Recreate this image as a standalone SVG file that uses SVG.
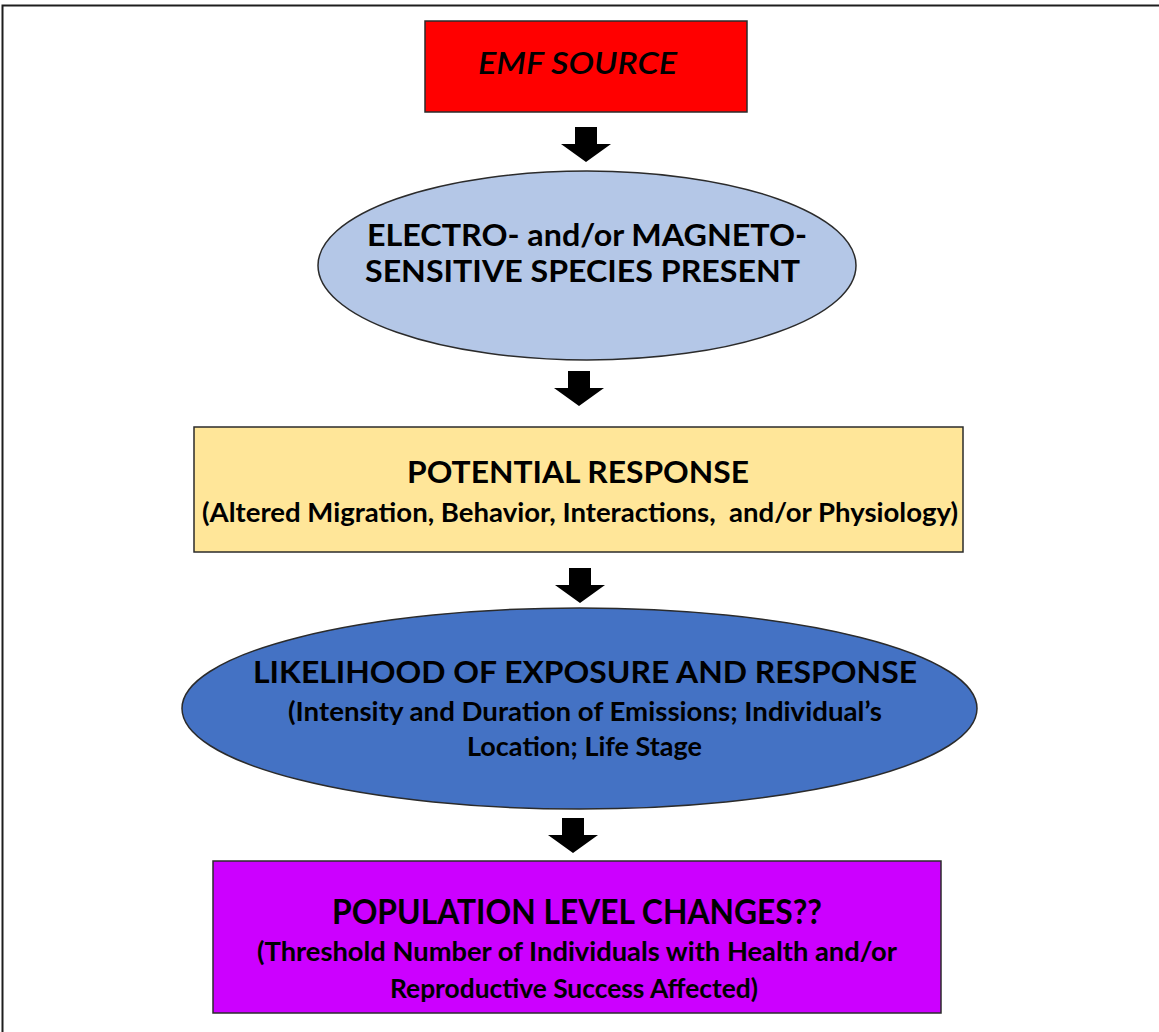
<svg xmlns="http://www.w3.org/2000/svg" width="1159" height="1032" viewBox="0 0 1159 1032">
<style>
.t{font-family:Lato,"Liberation Sans",sans-serif;font-weight:bold;fill:#000;}
.box{stroke:#2b2b2b;stroke-width:1.5;}
.arr{fill:#000;}
</style>
<defs>
<path id="arrow" d="M-11,0 H11 V17 H25 L0,35 L-25,17 H-11 Z"/>
</defs>
<rect width="1159" height="1032" fill="#fff"/>
<path d="M2.5,1032 V5.5 H1159" fill="none" stroke="#1e1e1e" stroke-width="2"/>
<g id="connectors">
<use href="#arrow" class="arr" x="586" y="127"/>
<use href="#arrow" class="arr" x="579" y="371"/>
<use href="#arrow" class="arr" x="580" y="568"/>
<use href="#arrow" class="arr" x="573" y="818"/>
</g>
<g id="emf-source">
<rect class="box" x="425" y="21" width="322" height="91" fill="#ff0000"/>
<text class="t" x="478" y="74" font-size="31" font-style="italic" textLength="199" lengthAdjust="spacingAndGlyphs" style="font-weight:600">EMF SOURCE</text>
</g>
<g id="species-present">
<ellipse class="box" cx="587" cy="265.5" rx="269" ry="94.5" fill="#b4c7e7"/>
<text class="t" x="367" y="246" font-size="30" textLength="440" lengthAdjust="spacingAndGlyphs">ELECTRO- and/or MAGNETO-</text>
<text class="t" x="365" y="282" font-size="30" textLength="435" lengthAdjust="spacingAndGlyphs">SENSITIVE SPECIES PRESENT</text>
</g>
<g id="potential-response">
<rect class="box" x="194" y="427" width="769" height="125" fill="#ffe699"/>
<text class="t" x="407" y="483" font-size="30" textLength="342" lengthAdjust="spacingAndGlyphs">POTENTIAL RESPONSE</text>
<text class="t" x="202" y="522" font-size="26" textLength="756" lengthAdjust="spacingAndGlyphs" xml:space="preserve">(Altered Migration, Behavior, Interactions,  and/or Physiology)</text>
</g>
<g id="likelihood">
<ellipse class="box" cx="579.5" cy="708.5" rx="397.5" ry="100.5" fill="#4472c4"/>
<text class="t" x="253" y="683" font-size="30" textLength="664" lengthAdjust="spacingAndGlyphs">LIKELIHOOD OF EXPOSURE AND RESPONSE</text>
<text class="t" x="288" y="721" font-size="26" textLength="594" lengthAdjust="spacingAndGlyphs">(Intensity and Duration of Emissions; Individual’s</text>
<text class="t" x="467" y="756" font-size="26" textLength="235" lengthAdjust="spacingAndGlyphs">Location; Life Stage</text>
</g>
<g id="population-changes">
<rect class="box" x="213" y="861" width="728" height="152" fill="#cc00ff"/>
<text class="t" x="332" y="924" font-size="34" textLength="490" lengthAdjust="spacingAndGlyphs">POPULATION LEVEL CHANGES??</text>
<text class="t" x="257" y="961" font-size="26" textLength="640" lengthAdjust="spacingAndGlyphs">(Threshold Number of Individuals with Health and/or</text>
<text class="t" x="390" y="998" font-size="26" textLength="368" lengthAdjust="spacingAndGlyphs">Reproductive Success Affected)</text>
</g>
</svg>
